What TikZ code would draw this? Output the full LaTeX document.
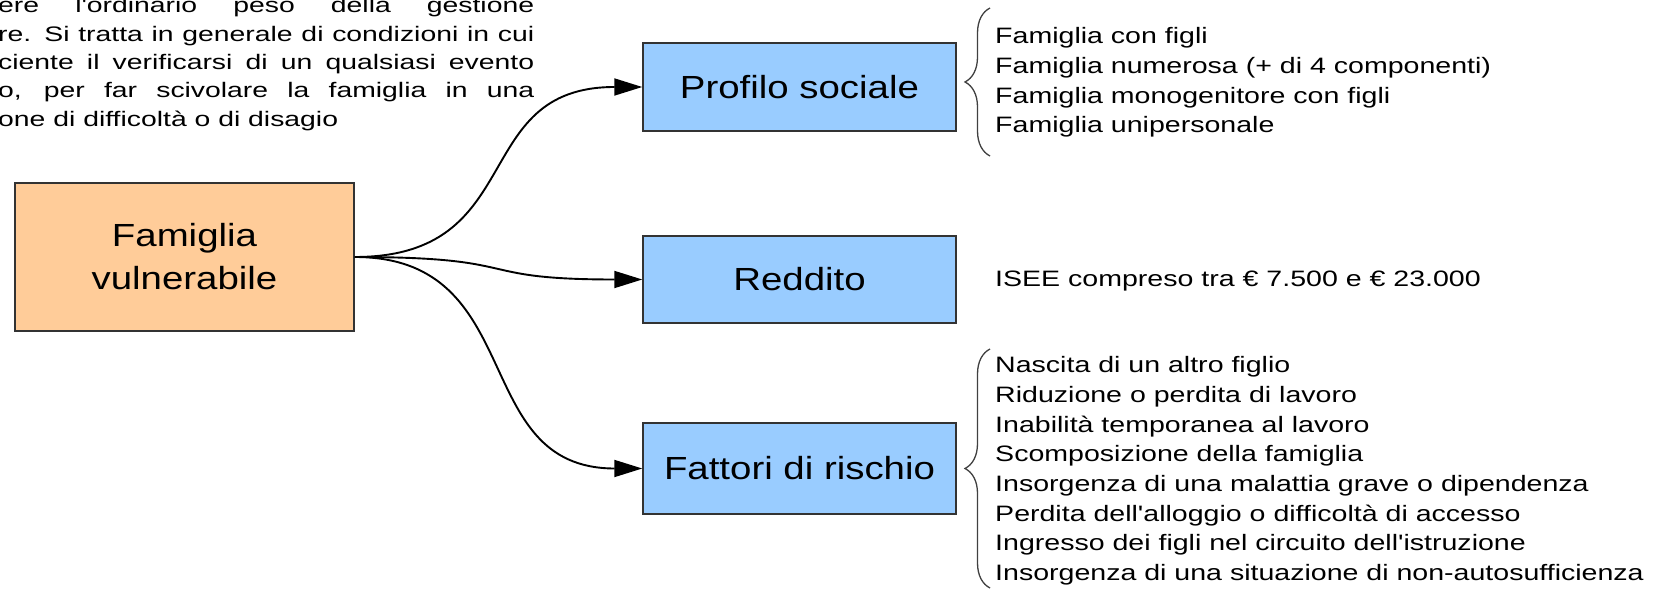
\documentclass[tikz,border=0pt]{standalone}
\usepackage{fontspec}
\newfontfamily\boxfont[FakeStretch=1.2,Ligatures={TeXOff,CommonOff}]{Liberation Sans}
\newfontfamily\listfont[FakeStretch=1.28,Ligatures={TeXOff,CommonOff}]{Liberation Sans}
\newfontfamily\parafont[FakeStretch=1.35,Ligatures={TeXOff,CommonOff}]{Liberation Sans}
\usetikzlibrary{arrows.meta,decorations.pathreplacing}
\definecolor{famorange}{HTML}{FFCC99}
\definecolor{catblue}{HTML}{99CCFF}
\definecolor{edgegray}{HTML}{333333}

\begin{document}
\begin{tikzpicture}[x=1pt,y=1pt,
  box/.style={draw=edgegray,line width=1.5pt,font=\boxfont\fontsize{32}{43}\selectfont,align=center,inner sep=0pt},
  catbox/.style={box,fill=catblue,minimum width=313pt},
  item/.style={font=\listfont\fontsize{22.3}{29.6}\selectfont,inner sep=0pt,anchor=base west},
  para/.style={font=\parafont\fontsize{21}{28.3}\selectfont,text width=536pt,align=justify,inner sep=0pt,anchor=base west},
  link/.style={line width=1.9pt,-{Triangle[length=28pt,width=17pt]}},
  curly/.style={draw=black!75,line width=1.3pt,decorate,decoration={brace,amplitude=25pt}}]
  \useasboundingbox (0,0) rectangle (1657,592);

  % text cut by the left and top edges
  \node[para] (intro) at (-2,579) {ere l'ordinario peso della gestione\linebreak
    re. Si tratta in generale di condizioni in cui\linebreak
    ciente il verificarsi di un qualsiasi evento\linebreak
    o, per far scivolare la famiglia in una\linebreak
    one di difficoltà o di disagio};

  \node[box,fill=famorange,minimum width=339pt,minimum height=148pt] (fam) at (184.5,335) {Famiglia\\vulnerabile};
  \node[catbox,minimum height=88pt] (prof) at (799.5,505) {Profilo sociale};
  \node[catbox,minimum height=87pt] (redd) at (799.5,312.5) {Reddito};
  \node[catbox,minimum height=91pt] (fatt) at (799.5,123.5) {Fattori di rischio};

  \draw[link] (fam.east) .. controls +(175,0) and +(-175,0) .. (prof.west);
  \draw[link] (fam.east) .. controls +(175,0) and +(-175,0) .. (redd.west);
  \draw[link] (fam.east) .. controls +(175,0) and +(-175,0) .. (fatt.west);

  \draw[curly] (990,436) -- (990,584);
  \foreach \t [count=\i from 0] in {Famiglia con figli, Famiglia numerosa (+ di 4 componenti),
      Famiglia monogenitore con figli, Famiglia unipersonale}
    \node[item] (prof-\i) at (995,548-29.6*\i) {\t};

  \node[item] (isee) at (995,305) {ISEE compreso tra € 7.500 e € 23.000};

  \draw[curly] (990,4) -- (990,243);
  \foreach \t [count=\i from 0] in {Nascita di un altro figlio, Riduzione o perdita di lavoro,
      Inabilità temporanea al lavoro, Scomposizione della famiglia,
      Insorgenza di una malattia grave o dipendenza, Perdita dell'alloggio o difficoltà di accesso,
      Ingresso dei figli nel circuito dell'istruzione, Insorgenza di una situazione di non-autosufficienza}
    \node[item] (fatt-\i) at (995,219-29.6*\i) {\t};
\end{tikzpicture}
\end{document}
